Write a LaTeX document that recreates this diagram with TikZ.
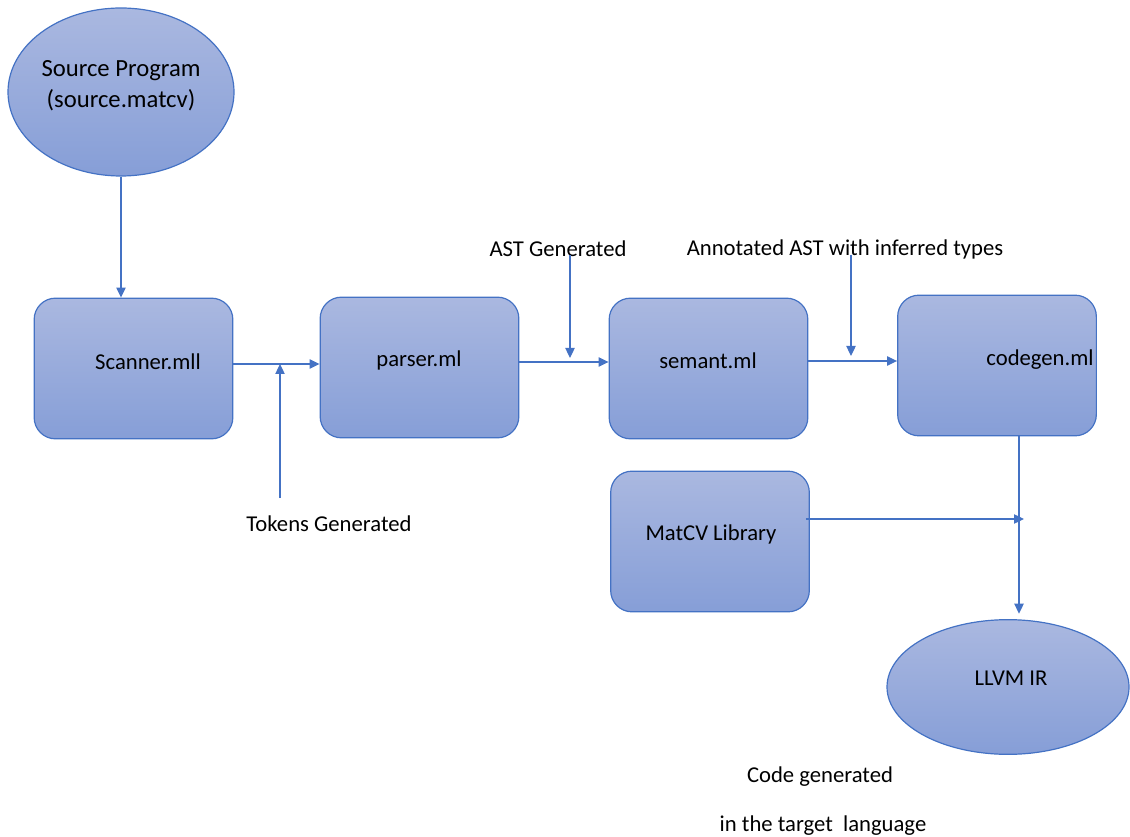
\documentclass[tikz,border=0pt]{standalone}
\usepackage{fontspec}
\setmainfont{Carlito}
\usetikzlibrary{arrows.meta,shapes.geometric}
\definecolor{edgeblue}{RGB}{68,114,196}
\definecolor{ftop}{RGB}{170,184,224}
\definecolor{fbot}{RGB}{134,158,215}
\tikzset{
  stagebox/.style={draw=edgeblue, line width=0.9pt, rounded corners=16pt,
    top color=ftop, bottom color=fbot, minimum width=149pt, minimum height=105.5pt, inner sep=0pt},
  ovalnode/.style={ellipse, draw=edgeblue, line width=0.9pt, top color=ftop, bottom color=fbot, inner sep=0pt},
  txt/.style={font=\fontsize{17}{20}\selectfont, text=black, inner sep=0pt},
  arr/.style={draw=edgeblue, line width=0.9pt, -{Triangle[length=7.5pt,width=7pt]}},
}
\begin{document}
\begin{tikzpicture}[x=0.75pt,y=-0.75pt]
\useasboundingbox (0,0) rectangle (1130,837);
% shapes
\node[ovalnode, minimum width=169.5pt, minimum height=126pt] (src) at (121,92) {};
\node[txt, font=\fontsize{18.5}{23.5}\selectfont, align=center] (srct) at (121,86) {Source Program\\(source.matcv)};
\node[stagebox] (scanner) at (133.5,368.5) {};
\node[txt] (scannert) at (148,362) {Scanner.mll};
\node[stagebox] (parser) at (419.5,367.5) {};
\node[txt] (parsert) at (419,360) {parser.ml};
\node[stagebox] (semant) at (708.5,368.5) {};
\node[txt] (semantt) at (708,361) {semant.ml};
\node[stagebox] (codegen) at (997,365.5) {};
\node[txt] (codegent) at (1040,360) {codegen.ml};
\node[stagebox] (matcv) at (710,541.5) {};
\node[txt] (matcvt) at (711,534) {MatCV Library};
\node[ovalnode, minimum width=181.5pt, minimum height=101pt] (llvm) at (1008,687) {};
\node[txt] (llvmt) at (1011,678) {LLVM IR};
% labels
\node[txt] (tokl) at (329,524) {Tokens Generated};
\node[txt] (astl) at (558,249) {AST Generated};
\node[txt] (annl) at (845,249) {Annotated AST with inferred types};
\node[txt] (code1) at (820,777) {Code generated};
\node[txt] (code2) at (823,826) {in the target\ \ language};
% coordinates
\coordinate (tok) at (280,364);
\coordinate (tokS) at (280,498);
\coordinate (ast) at (570,358);
\coordinate (astS) at (570,255);
\coordinate (ann) at (851,356);
\coordinate (annS) at (851,255);
\coordinate (join) at (1019,519);
\coordinate (mEnd) at (1024,519);
% connectors
\draw[arr] (src.south) -- (src.south |- scanner.north);
\draw[arr] (scanner.east |- tok) -- (parser.west |- tok);
\draw[arr] (tokS) -- (tok);
\draw[arr] (parser.east |- 0,362) -- (semant.west |- 0,362);
\draw[arr] (astS) -- (ast);
\draw[arr] (semant.east |- 0,361) -- (codegen.west |- 0,361);
\draw[arr] (annS) -- (ann);
\draw[arr] (codegen.south -| join) -- ([yshift=4]llvm.north -| join);
\draw[arr] ([xshift=-3]matcv.east |- mEnd) -- (mEnd);
\end{tikzpicture}
\end{document}
